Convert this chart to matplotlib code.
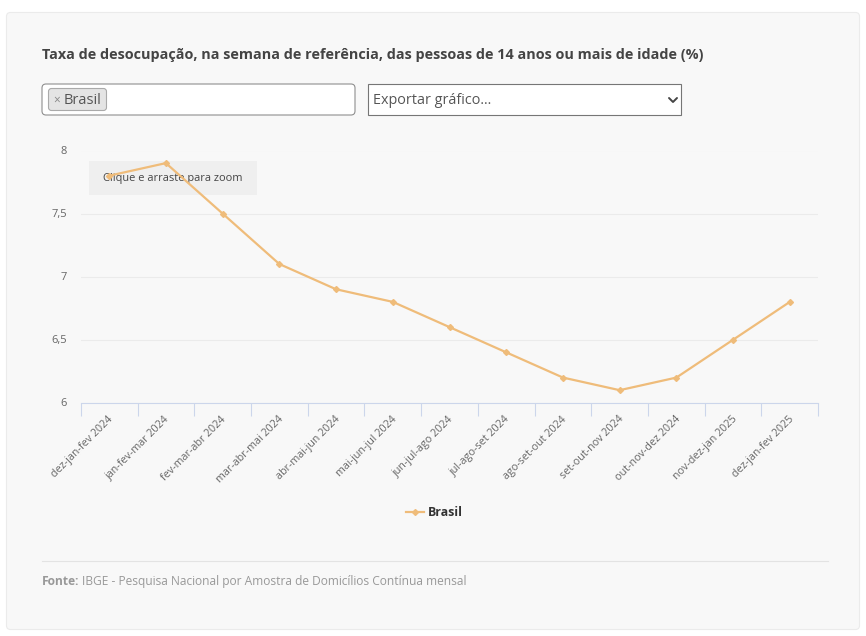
import matplotlib
matplotlib.use("Agg")
import matplotlib.pyplot as plt
from matplotlib.patches import FancyBboxPatch, Rectangle
from matplotlib.ticker import FuncFormatter
from matplotlib.transforms import ScaledTranslation

plt.rcParams['font.family'] = ['Open Sans', 'DejaVu Sans']

categories = ["dez-jan-fev 2024", "jan-fev-mar 2024", "fev-mar-abr 2024", "mar-abr-mai 2024",
              "abr-mai-jun 2024", "mai-jun-jul 2024", "jun-jul-ago 2024", "jul-ago-set 2024",
              "ago-set-out 2024", "set-out-nov 2024", "out-nov-dez 2024", "nov-dez-jan 2025",
              "dez-jan-fev 2025"]
values = [7.8, 7.9, 7.5, 7.1, 6.9, 6.8, 6.6, 6.4, 6.2, 6.1, 6.2, 6.5, 6.8]
y_ticks = [6, 6.5, 7, 7.5, 8]
series_name = "Brasil"
title = "Taxa de desocupação, na semana de referência, das pessoas de 14 anos ou mais de idade (%)"
source = "IBGE - Pesquisa Nacional por Amostra de Domicílios Contínua mensal"

W, H = 866, 636
LINE = "#EFBC7A"
fig = plt.figure(figsize=(W / 100, H / 100), dpi=100, facecolor="white")

# page layer in pixel coordinates
bg = fig.add_axes([0, 0, 1, 1], zorder=0)
bg.set_xlim(0, W); bg.set_ylim(H, 0); bg.axis("off")

def box(x, y, w, h, fc, ec, lw=1.0, r=0, z=1):
    style = f"round,pad=0,rounding_size={r}" if r else "square,pad=0"
    bg.add_patch(FancyBboxPatch((x, y), w, h, boxstyle=style, fc=fc, ec=ec, lw=lw, zorder=z))

box(6.5, 12.5, 853, 617, "#F8F8F8", "#EBEBEB", 0.8, 4)
bg.text(42, 55.5, title, fontsize=10.4, fontweight="bold", color="#444444", va="center", ha="left")

box(42, 84, 313, 31, "white", "#8F8F8F", 0.8, 4)
box(48.5, 88.5, 58, 22, "#E4E4E4", "#AAAAAA", 0.8, 3, 2)
bg.text(53.5, 100, "×", fontsize=8.5, color="#888888", va="center", ha="left", zorder=3)
bg.text(64, 100.5, "Brasil", fontsize=10.5, color="#555555", va="center", ha="left", zorder=3)

box(368, 84, 313, 31, "white", "#767676", 0.8, 0)
bg.text(373, 100.5, "Exportar gráfico...", fontsize=10.4, color="#555555", va="center", ha="left", zorder=3)
bg.plot([669, 673, 677], [98, 102, 98], color="#444444", lw=1.4, zorder=3, solid_capstyle="round")

bg.add_patch(Rectangle((89, 161), 168, 34, fc="#EFEFEF", ec="none", zorder=2))
bg.text(173, 178.5, "Clique e arraste para zoom", fontsize=7.9, color="#444444", va="center", ha="center", zorder=3)

bg.plot([42, 828], [561, 561], color="#E3E3E3", lw=0.8, zorder=2)
bg.text(42, 585, "Fonte:", fontsize=8.65, fontweight="bold", color="#999999", va="baseline", ha="left", zorder=3)
bg.text(82.5, 585, source, fontsize=8.63, color="#999999", va="baseline", ha="left", zorder=3)

# chart
left, right, top, bottom = 80.8, 818.2, 150.5, 402.8
ax = fig.add_axes([left / W, 1 - bottom / H, (right - left) / W, (bottom - top) / H], zorder=1)
ax.patch.set_alpha(0)
x = list(range(len(categories)))
ax.plot(x, values, color=LINE, lw=1.6, marker="D", ms=3, mec=LINE, mfc=LINE, clip_on=False, zorder=5)
ax.set_xlim(-0.5, len(categories) - 0.5)
ax.set_ylim(6, 8)
ax.set_yticks(y_ticks)
ax.yaxis.set_major_formatter(FuncFormatter(lambda v, p: f"{v:g}".replace(".", ",")))
ax.grid(axis="y", color="#EBEBEB", lw=0.8)
ax.set_axisbelow(True)
ax.tick_params(axis="y", length=0, pad=10, labelsize=8, labelcolor="#666666")
ax.set_xticks([i - 0.5 for i in range(len(categories) + 1)])
ax.set_xticklabels([])
ax.set_xticks(x, minor=True)
ax.set_xticklabels(categories, minor=True, rotation=45, ha="right", rotation_mode="anchor",
                   fontsize=7.75, color="#666666")
ax.tick_params(axis="x", which="minor", length=0, pad=8)
ax.tick_params(axis="x", which="major", length=9, width=0.8, color="#CCD6EB", direction="out")
x_offset = ScaledTranslation(-1.2 / 72, 0, fig.dpi_scale_trans)
for lab in ax.get_xticklabels(minor=True):
    lab.set_transform(lab.get_transform() + x_offset)
y_offset = ScaledTranslation(0, 0.6 / 72, fig.dpi_scale_trans)
for lab in ax.get_yticklabels():
    lab.set_transform(lab.get_transform() + y_offset)
for s in ["top", "left", "right"]:
    ax.spines[s].set_visible(False)
ax.spines["bottom"].set_color("#CCD6EB")
ax.spines["bottom"].set_linewidth(0.8)

# legend
bg.plot([406, 424], [511.5, 511.5], color=LINE, lw=1.6, zorder=3)
bg.plot([415], [511.5], marker="D", ms=3, color=LINE, zorder=4)
bg.text(428, 512, series_name, fontsize=8.9, fontweight="bold", color="#333333", va="center", ha="left", zorder=3)

fig.savefig("out.png", dpi=100, facecolor="white")
